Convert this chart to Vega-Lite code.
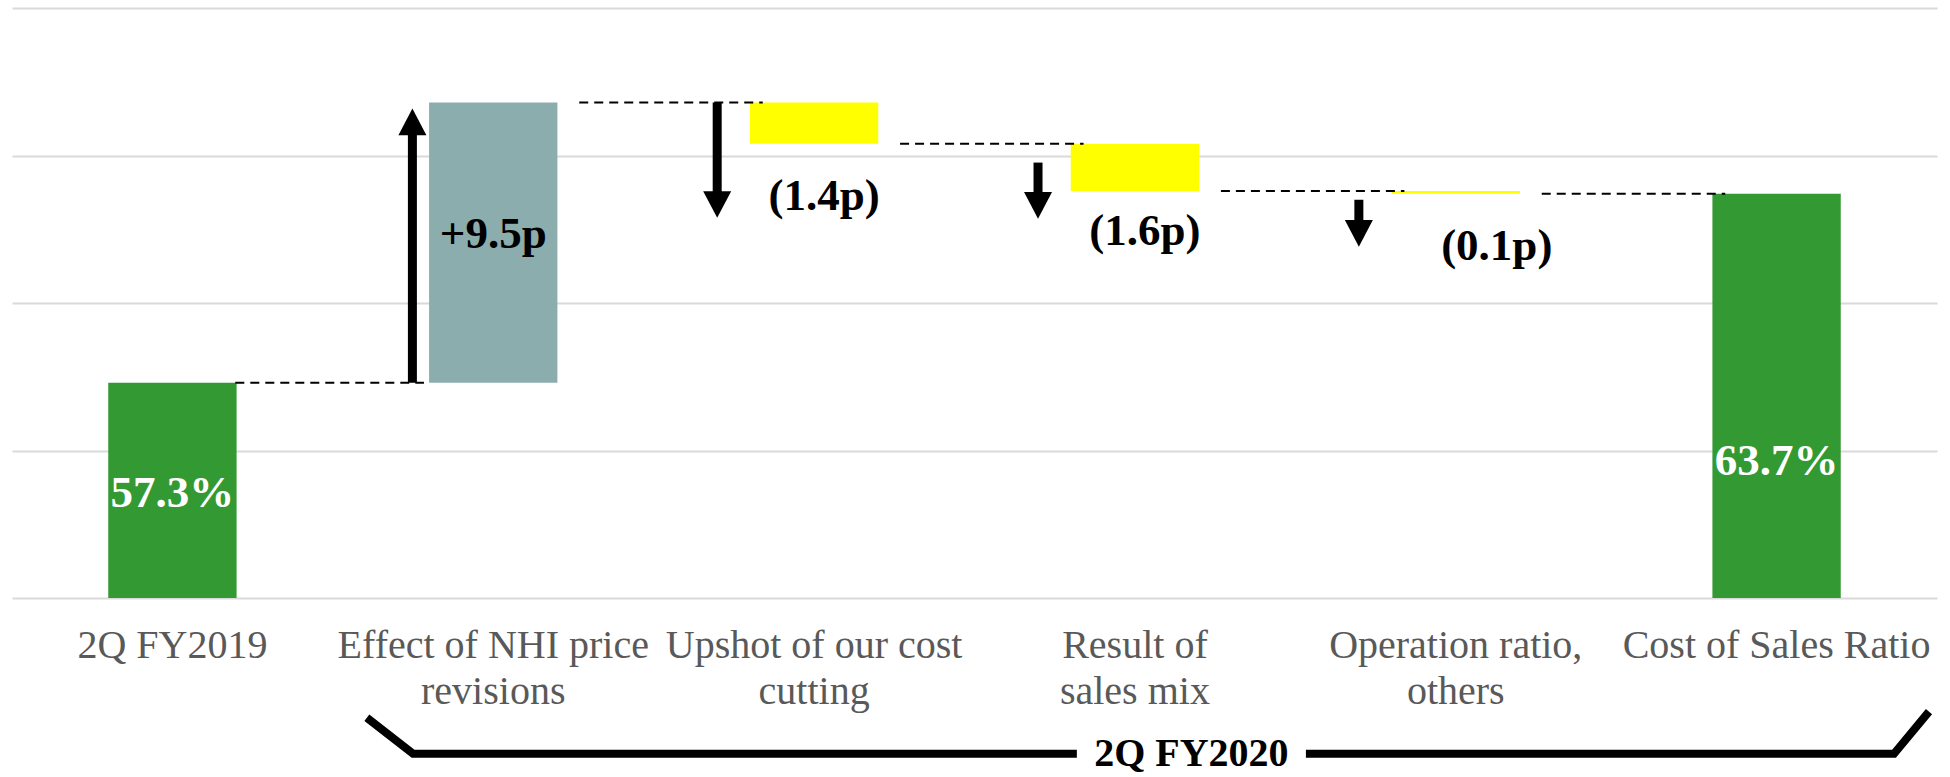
{
  "$schema": "https://vega.github.io/schema/vega-lite/v6.json",
  "width": 1925,
  "height": 590,
  "autosize": {"type": "none"},
  "padding": {"left": 12, "top": 8, "right": 13, "bottom": 179},
  "background": "white",
  "config": {
    "view": {"stroke": null},
    "font": "Liberation Serif",
    "axisY": {
      "grid": true,
      "gridColor": "#D9D9D9",
      "gridWidth": 2,
      "labels": false,
      "ticks": false,
      "domain": false
    },
    "axisX": {
      "domain": false,
      "ticks": false,
      "grid": false
    }
  },
  "datasets": {
    "steps": [
      {"step": 1, "category": "2Q FY2019", "type": "total", "start": 0, "end": 57.3, "label": "57.3%", "label_y": 53.09},
      {"step": 2, "category": "Effect of NHI price revisions", "type": "increase", "start": 57.3, "end": 66.8, "label": "+9.5p", "label_y": 61.87, "arrow_from": 57.3, "arrow_to": 66.59},
      {"step": 3, "category": "Upshot of our cost cutting", "type": "decrease", "start": 66.8, "end": 65.4, "label": "(1.4p)", "label_y": 63.14, "arrow_from": 66.8, "arrow_to": 62.89},
      {"step": 4, "category": "Result of sales mix", "type": "decrease", "start": 65.4, "end": 63.8, "label": "(1.6p)", "label_y": 61.98, "arrow_from": 64.76, "arrow_to": 62.86},
      {"step": 5, "category": "Operation ratio, others", "type": "decrease", "start": 63.8, "end": 63.7, "label": "(0.1p)", "label_y": 61.47, "arrow_from": 63.5, "arrow_to": 61.91},
      {"step": 6, "category": "Cost of Sales Ratio", "type": "total", "start": 0, "end": 63.7, "label": "63.7%", "label_y": 54.18}
    ],
    "bracket": [
      {"seg": "a", "o": 1, "u": 0.606, "v": 45.94},
      {"seg": "a", "o": 2, "u": 0.75, "v": 44.72},
      {"seg": "a", "o": 3, "u": 2.819, "v": 44.72},
      {"seg": "b", "o": 1, "u": 3.533, "v": 44.72},
      {"seg": "b", "o": 2, "u": 5.366, "v": 44.72},
      {"seg": "b", "o": 3, "u": 5.475, "v": 46.15}
    ],
    "bracketText": [
      {"text": "2Q FY2020", "u": 3.176, "v": 44.32}
    ]
  },
  "layer": [
    {
      "data": {"name": "steps"},
      "encoding": {
        "x": {
          "field": "category",
          "type": "nominal",
          "sort": null,
          "title": null,
          "scale": {
            "domain": ["2Q FY2019", "Effect of NHI price revisions", "Upshot of our cost cutting", "Result of sales mix", "Operation ratio, others", "Cost of Sales Ratio"],
            "paddingInner": 0.6,
            "paddingOuter": 0.3
          },
          "axis": {
            "title": null,
            "labelAngle": 0,
            "labelFont": "Liberation Serif",
            "labelFontSize": 40,
            "labelColor": "#595959",
            "labelBaseline": "alphabetic",
            "labelPadding": 59,
            "labelLineHeight": 46,
            "labelLimit": 0,
            "labelOverlap": false,
            "labelExpr": "split(replace(replace(replace(replace(datum.label, 'price ', 'price|'), 'cost ', 'cost|'), 'of sales', 'of|sales'), 'ratio, ', 'ratio,|'), '|')"
          }
        }
      },
      "layer": [
        {
          "mark": {"type": "bar", "clip": true},
          "encoding": {
            "y": {
              "field": "start",
              "type": "quantitative",
              "title": null,
              "scale": {"domain": [50, 70], "nice": false, "zero": false},
              "axis": {"values": [50, 55, 60, 65, 70], "title": null}
            },
            "y2": {"field": "end"},
            "color": {
              "field": "type",
              "type": "nominal",
              "scale": {"domain": ["total", "increase", "decrease"], "range": ["#339933", "#8CADAE", "#FFFF00"]},
              "legend": null
            }
          }
        },
        {
          "transform": [{"filter": "datum.step == 1"}],
          "mark": {"type": "rule", "strokeDash": [9, 6], "strokeWidth": 2, "color": "black"},
          "encoding": {
            "x": {"field": "category", "type": "nominal", "sort": null, "title": null, "bandPosition": 0.99},
            "x2": {"field": "category", "bandPosition": 2.46},
            "y": {"field": "end", "type": "quantitative", "title": null}
          }
        },
        {
          "transform": [{"filter": "datum.step > 1 && datum.step < 6"}],
          "mark": {"type": "rule", "strokeDash": [9, 6], "strokeWidth": 2, "color": "black"},
          "encoding": {
            "x": {"field": "category", "type": "nominal", "sort": null, "title": null, "bandPosition": 1.17},
            "x2": {"field": "category", "bandPosition": 2.6},
            "y": {"field": "end", "type": "quantitative", "title": null}
          }
        },
        {
          "transform": [{"filter": "datum.type === 'increase'"}, {"calculate": "datum.arrow_to - 0.75", "as": "shaft_end"}],
          "mark": {"type": "rule", "strokeWidth": 9, "color": "black"},
          "encoding": {
            "x": {"field": "category", "type": "nominal", "sort": null, "title": null, "bandPosition": -0.13},
            "y": {"field": "arrow_from", "type": "quantitative", "title": null},
            "y2": {"field": "shaft_end"}
          }
        },
        {
          "transform": [{"filter": "datum.type === 'increase'"}],
          "mark": {"type": "point", "shape": "M0,0L1,1.9L-1,1.9Z", "size": 784, "filled": true, "opacity": 1, "color": "black", "strokeWidth": 0},
          "encoding": {
            "x": {"field": "category", "type": "nominal", "sort": null, "title": null, "bandPosition": -0.13},
            "y": {"field": "arrow_to", "type": "quantitative", "title": null}
          }
        },
        {
          "transform": [{"filter": "datum.type === 'decrease'"}, {"calculate": "datum.arrow_to + 0.75", "as": "shaft_end"}],
          "mark": {"type": "rule", "strokeWidth": 9, "color": "black"},
          "encoding": {
            "x": {"field": "category", "type": "nominal", "sort": null, "title": null, "bandPosition": -0.255},
            "y": {"field": "arrow_from", "type": "quantitative", "title": null},
            "y2": {"field": "shaft_end"}
          }
        },
        {
          "transform": [{"filter": "datum.type === 'decrease'"}],
          "mark": {"type": "point", "shape": "M0,0L1,-1.9L-1,-1.9Z", "size": 784, "filled": true, "opacity": 1, "color": "black", "strokeWidth": 0},
          "encoding": {
            "x": {"field": "category", "type": "nominal", "sort": null, "title": null, "bandPosition": -0.255},
            "y": {"field": "arrow_to", "type": "quantitative", "title": null}
          }
        },
        {
          "transform": [{"filter": "datum.type !== 'decrease'"}],
          "mark": {"type": "text", "font": "Liberation Serif", "fontSize": 45, "fontWeight": "bold", "baseline": "alphabetic", "align": "center"},
          "encoding": {
            "y": {"field": "label_y", "type": "quantitative", "title": null},
            "text": {"field": "label"},
            "color": {"condition": {"test": "datum.type === 'total'", "value": "white"}, "value": "black"}
          }
        },
        {
          "transform": [{"filter": "datum.step == 3 || datum.step == 4"}],
          "mark": {"type": "text", "font": "Liberation Serif", "fontSize": 45, "fontWeight": "bold", "baseline": "alphabetic", "align": "center", "dx": 10, "color": "black"},
          "encoding": {
            "y": {"field": "label_y", "type": "quantitative", "title": null},
            "text": {"field": "label"}
          }
        },
        {
          "transform": [{"filter": "datum.step == 5"}],
          "mark": {"type": "text", "font": "Liberation Serif", "fontSize": 45, "fontWeight": "bold", "baseline": "alphabetic", "align": "center", "dx": 41, "color": "black"},
          "encoding": {
            "y": {"field": "label_y", "type": "quantitative", "title": null},
            "text": {"field": "label"}
          }
        }
      ]
    },
    {
      "layer": [
        {
          "data": {"name": "bracket"},
          "mark": {"type": "line", "strokeWidth": 8, "color": "black", "strokeJoin": "miter", "strokeCap": "butt"},
          "encoding": {
            "x": {"field": "u", "type": "quantitative", "scale": {"domain": [-0.5, 5.5], "nice": false, "zero": false}, "axis": null},
            "y": {"field": "v", "type": "quantitative", "title": null},
            "detail": {"field": "seg"},
            "order": {"field": "o"}
          }
        },
        {
          "data": {"name": "bracketText"},
          "mark": {"type": "text", "font": "Liberation Serif", "fontSize": 40, "fontWeight": "bold", "baseline": "alphabetic", "align": "center", "color": "black"},
          "encoding": {
            "x": {"field": "u", "type": "quantitative", "axis": null},
            "y": {"field": "v", "type": "quantitative", "title": null},
            "text": {"field": "text"}
          }
        }
      ]
    }
  ],
  "resolve": {"scale": {"x": "independent"}, "axis": {"x": "independent"}}
}
